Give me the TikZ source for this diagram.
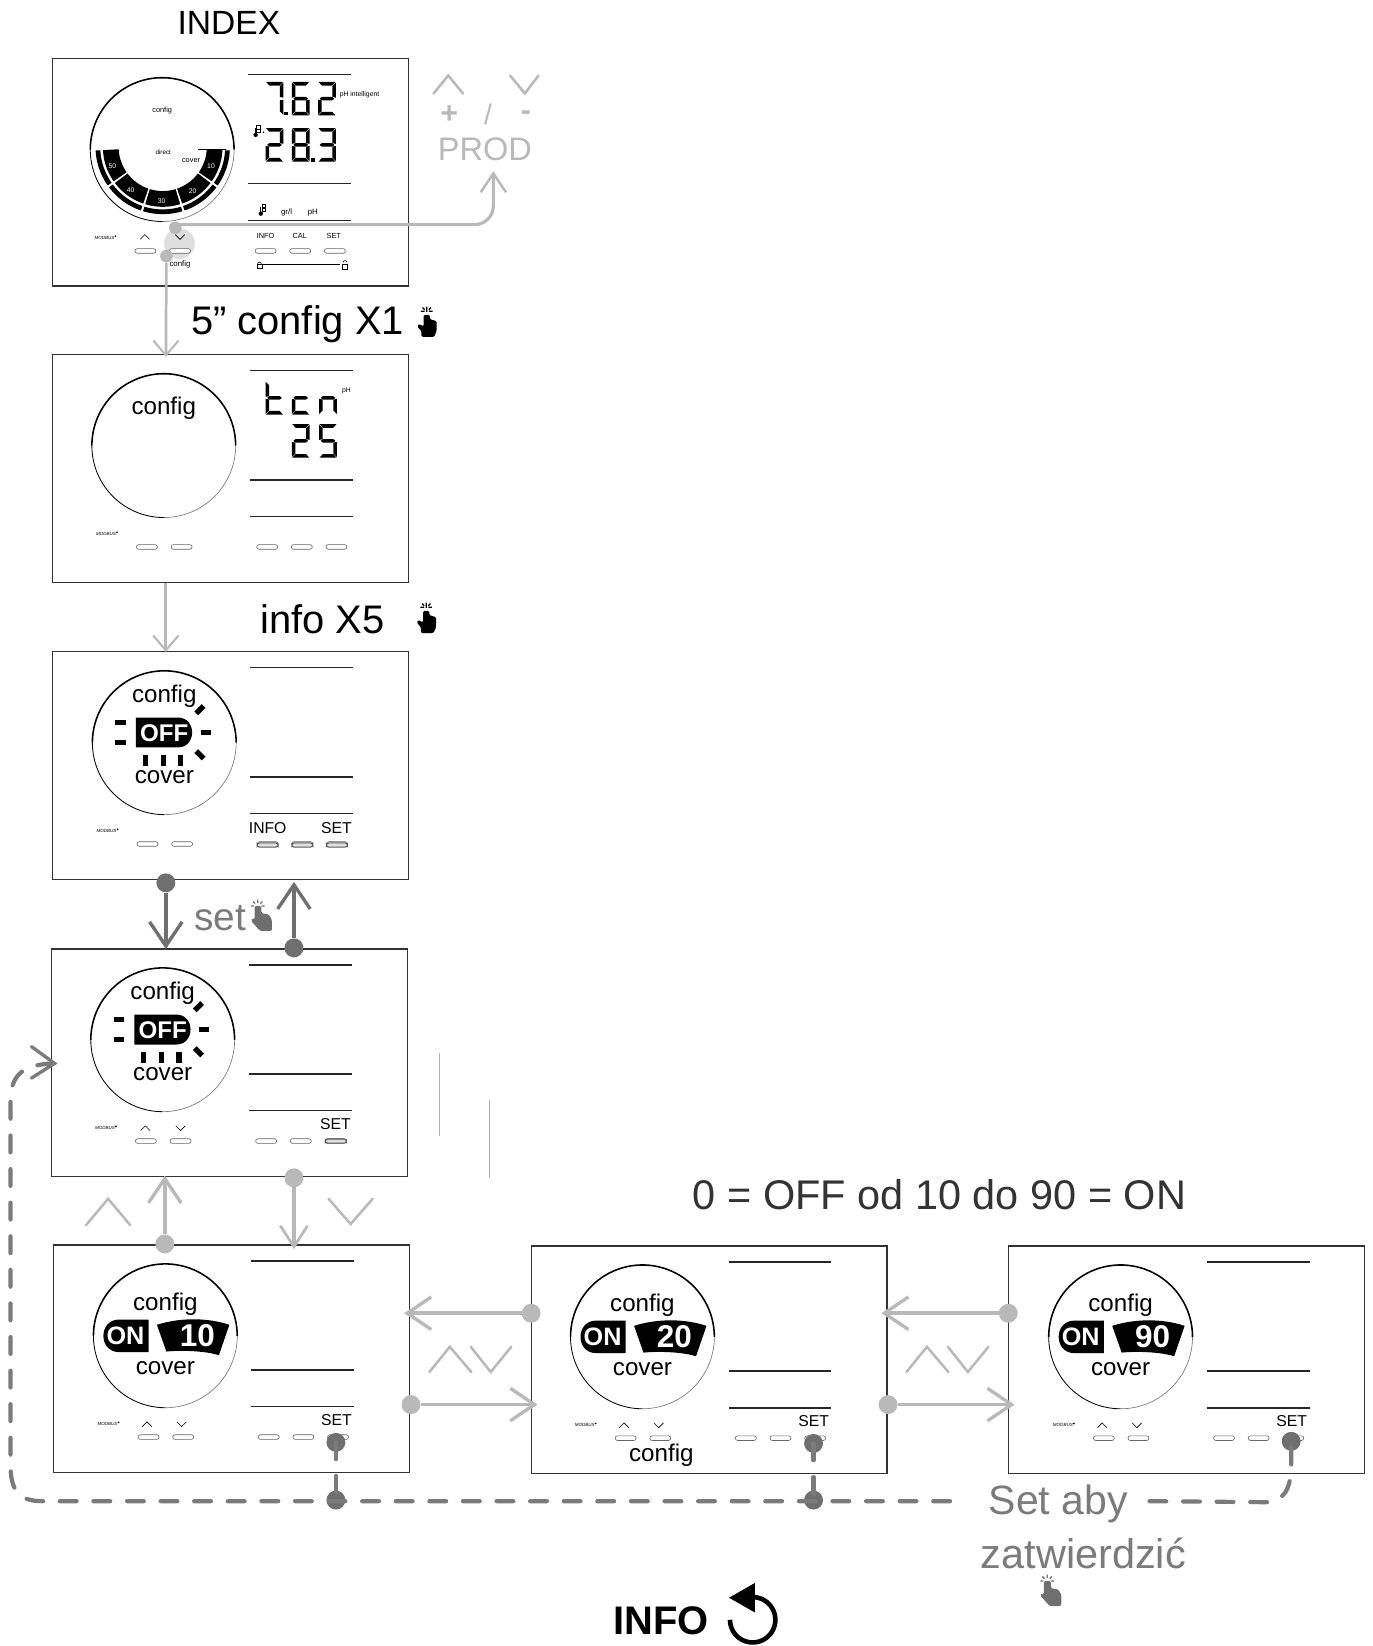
\documentclass[tikz,border=0pt]{standalone}
\usepackage{fontspec}
\setmainfont{Liberation Sans}
\usetikzlibrary{arrows.meta}
\definecolor{lgray}{HTML}{B9B9B9}
\definecolor{dgray}{HTML}{6F6F6F}
\definecolor{mgray}{HTML}{7B7B7B}
\definecolor{fcol}{HTML}{333333}
\newcommand\fs[1]{\fontsize{#1}{#1}\selectfont}
\tikzset{
 frame/.style={draw=fcol,line width=1.1pt,minimum width=339pt,minimum height=216.5pt,anchor=north west,inner sep=0pt,outer sep=0pt},
 txt/.style={inner sep=0pt,outer sep=0pt,text=black},
 ldot/.style={circle,fill=lgray,inner sep=0pt,minimum size=18pt},
 ddot/.style={circle,fill=dgray,inner sep=0pt,minimum size=18pt},
 sdot/.style={circle,fill=lgray,inner sep=0pt,minimum size=12pt},
 lconn/.style={draw=lgray,line width=3.6pt},
 dconn/.style={draw=dgray,line width=3.8pt},
 dashconn/.style={draw=mgray,line width=4pt,line cap=round,dash pattern=on 16pt off 16pt},
 bigtip/.style={-{Straight Barb[length=23pt,width=31pt,line width=3.2pt]}},
 smalltip/.style={-{Straight Barb[length=14pt,width=24pt,line width=2pt]}},
 rule/.style={draw=black!85,line width=1.5pt},
 btn/.style={draw=black!60,line width=.6pt,fill=white,rounded corners=2.2pt},
 chev/.style={draw=lgray,line width=2.4pt,line cap=round,line join=miter},
 tiny/.style={draw=black,line width=.6pt},
}
% seven segment pieces (17 x 32)
\newcommand\segA{\fill (.4,0) -- (16.6,0) -- (13.4,3.5) -- (3.6,3.5) -- cycle;}
\newcommand\segB{\fill (17,.5) -- (17,15) -- (13.6,14.4) -- (13.6,4) -- cycle;}
\newcommand\segC{\fill (17,17) -- (17,31.5) -- (13.6,28) -- (13.6,17.6) -- cycle;}
\newcommand\segD{\fill (.4,32) -- (16.6,32) -- (13.4,28.5) -- (3.6,28.5) -- cycle;}
\newcommand\segE{\fill (0,17) -- (0,31.5) -- (3.4,28) -- (3.4,17.6) -- cycle;}
\newcommand\segF{\fill (0,.5) -- (0,15) -- (3.4,14.4) -- (3.4,4) -- cycle;}
\newcommand\segG{\fill (1.5,16) -- (3.6,14.3) -- (13.4,14.3) -- (15.5,16) -- (13.4,17.7) -- (3.6,17.7) -- cycle;}
\newcommand\sevseg[3]{\begin{scope}[shift={(#1,#2)}]\foreach \s in {#3}{\csname seg\s\endcsname}\end{scope}}
% arcs and annular sectors, angles run clockwise on the page
\newcommand\arcline[6]{\draw[#1] plot[domain=#5:#6,samples=50] ({#2+#4*cos(\x)},{#3+#4*sin(\x)});}
\newcommand\annsec[6]{\fill plot[domain=#5:#6,samples=16] ({#1+#4*cos(\x)},{#2+#4*sin(\x)}) -- plot[domain=#6:#5,samples=16] ({#1+#3*cos(\x)},{#2+#3*sin(\x)}) -- cycle;}
% panel: name, frame x, frame y, content dx
\newcommand\panel[4]{%
 \node[frame] (#1) at (#2,#3) {};
 \begin{scope}[shift={(#2+#4,#3)}]
  \arcline{draw=black,line width=1.5pt}{106}{86.5}{68.5}{-180}{0}
  \arcline{draw=black,line width=.8pt}{106}{86.5}{68.5}{180}{90}
  \arcline{draw=black!55,line width=.6pt}{106}{86.5}{68.5}{90}{0}
  \draw[rule] (188,15) -- (286,15);
  \draw[rule] (188,119) -- (286,119);
  \draw[rule] (188,154) -- (286,154);
  \foreach \bx in {90,123,204.5,237.5,270.5}{\draw[btn] (\bx-10,180.8) rectangle (\bx+10,185.2);}
  \node[txt,font=\fs{4.3}\itshape] (#1logo) at (51,170.5) {MODBUS};
  \fill (61.5,169) circle (.9);
 \end{scope}}
\newcommand\offdisp[3]{%
 \begin{scope}[shift={(#2,#3)}]
  \node[txt,font=\fs{23}] (#1cfg) at (106,42.5) {config};
  \fill (79,62.5) -- (119,62.5) .. controls (137,62.5) and (137,91) .. (119,91) -- (79,91) -- cycle;
  \node[txt,font=\fs{23}\bfseries,text=white] (#1off) at (106,77) {OFF};
  \foreach \ty in {67,86}{\draw[line width=5pt] (59.5,\ty) -- (69.5,\ty);}
  \draw[line width=5pt] (140.5,77) -- (150.5,77);
  \draw[line width=5pt] (136.5,58.5) -- (143.5,51.5);
  \draw[line width=5pt] (136.5,94.5) -- (143.5,101.5);
  \foreach \tx in {88,105,121.4}{\draw[line width=5pt] (\tx,98) -- (\tx,109);}
  \node[txt,font=\fs{23}] (#1cov) at (106,119.5) {cover};
 \end{scope}}
\newcommand\ondisp[4]{%
 \begin{scope}[shift={(#2,#3)}]
  \node[txt,font=\fs{23}] (#1cfg) at (106,56) {config};
  \fill (90,71) -- (62,71) .. controls (42,71) and (42,102) .. (62,102) -- (90,102) -- cycle;
  \node[txt,font=\fs{24}\bfseries,text=white] (#1on) at (68,86.5) {ON};
  \fill (98,76) .. controls (120,69) and (146,69) .. (167,76) -- (157,105) .. controls (145,101) and (122,100) .. (107,101.5) -- cycle;
  \node[txt,font=\fs{30}\bfseries,text=white] (#1num) at (136.5,86.5) {#4};
  \node[txt,font=\fs{23}] (#1cov) at (106,117) {cover};
  \node[txt,font=\fs{15}] (#1set) at (269,167) {SET};
  \draw[tiny] (84,173) -- (88.5,168.5) -- (93,173);
  \draw[tiny] (117,168.5) -- (121.5,173) -- (126,168.5);
 \end{scope}}
% hand with the finger at one third: x, y (top left), colour
\newcommand\handicon[3]{%
 \begin{scope}[shift={(#1,#2)}]
  \fill[#3,rounded corners=1.4pt] (3.5,6) -- (10,6) -- (10,13) -- (17,14) -- (20,19) -- (20,30) -- (9,30) -- (0,20) -- (1.5,17.5) -- (3.5,19) -- cycle;
  \draw[line width=1.2pt,#3] (6.5,0) -- (6.5,3.4) (0,6) -- (3,6) (10,6) -- (13,6) (2,1.8) -- (4,3.8) (11,1.8) -- (9,3.8);
 \end{scope}}
% hand with the finger in the middle: x, y (top left)
\newcommand\handblack[2]{%
 \begin{scope}[shift={(#1,#2)}]
  \fill[rounded corners=1.2pt] (6.5,8) -- (12.5,8) -- (12.5,12) -- (19,14) -- (19,23) -- (16.5,29) -- (4.5,29) -- (4.5,23.5) -- (.5,19) -- (2,16.5) -- (6.5,19) -- cycle;
  \draw[line width=1.2pt] (9.5,0) -- (9.5,5) (4,4.5) -- (7.5,4.5) (11.5,4.5) -- (15,4.5) (5.5,1) -- (7.5,3) (13.5,1) -- (11.5,3);
 \end{scope}}
\newcommand\thermo[2]{%
 \begin{scope}[shift={(#1,#2)}]
  \fill (0,3.5) circle (2.1);
  \draw[line width=1.2pt] (0,-3) -- (0,3);
  \draw[line width=.35pt] (1,-5.5) rectangle (4.5,-2.2) (1,-2) rectangle (4.5,1);
 \end{scope}}
\begin{document}
\begin{tikzpicture}[x=1pt,y=-1pt]
\useasboundingbox (0,0) rectangle (1307,1568);
\fill[white] (0,0) rectangle (1307,1568);

% title
\node[txt,font=\fs{32}] (tindex) at (218,21.5) {INDEX};

% ---- panel 1
\fill[black!13] (171,232) circle (14.6);
\panel{fa}{50}{56}{-1.5}
% gauge
\foreach \aa/\ab in {3/35,37/71,73/107,109/143,145/177}{
 \annsec{155}{140}{42}{57}{\aa}{\ab}
 \annsec{155}{140}{59.5}{64}{\aa}{\ab}
}
\draw[line width=.8pt] (189,142.5) -- (215,142.5);
\foreach \lbl/\lx/\ly in {50/107/158,40/124.5/181.5,30/154/192,20/183.5/182,10/201/158}{
 \node[txt,font=\fs{6.5},text=white] (g\lbl) at (\lx,\ly) {\lbl};}
\node[txt,font=\fs{7}] (gcfg) at (154.5,105.5) {config};
\node[txt,font=\fs{6}] (gdir) at (155.5,145.5) {direct};
\node[txt,font=\fs{7}] (gcov) at (182,153) {cover};
% digits
\sevseg{253}{78}{A,B,C}
\fill (271,106.5) rectangle (274.5,110);
\sevseg{278}{78}{A,C,D,E,F,G}
\sevseg{303}{78}{A,B,D,E,G}
\sevseg{253}{122}{A,B,D,E,G}
\sevseg{278}{122}{A,B,C,D,E,F,G}
\fill (296.5,150.5) rectangle (300,154);
\sevseg{303}{122}{A,B,C,D,G}
\fill (251,126) circle (.9);
\node[txt,font=\fs{6.5}] (tph) at (342.5,90.5) {pH intelligent};
\thermo{243.5}{125}
\thermo{248.5}{200}
\node[txt,font=\fs{7.5}] (tgrl) at (273,202.5) {gr/l};
\node[txt,font=\fs{7.5}] (tphb) at (298,202.5) {pH};
% labels under panel 1
\draw[tiny] (133.5,228) -- (138,223.5) -- (142.5,228);
\draw[tiny] (167,223.5) -- (171.5,228) -- (176,223.5);
\node[txt,font=\fs{7}] (tinf) at (253,225) {INFO};
\node[txt,font=\fs{7}] (tcal) at (285.5,225) {CAL};
\node[txt,font=\fs{7}] (tset) at (318,225) {SET};
\node[txt,font=\fs{7.5}] (tcfa) at (171.5,251.5) {config};
\draw[line width=.6pt] (250,251.5) -- (324,251.5);
\draw[line width=.6pt] (245,251.5) rectangle (249.5,256);
\arcline{draw=black,line width=.6pt}{247.2}{251.5}{1.7}{-180}{0}
\draw[line width=.6pt] (326.5,252) rectangle (331,256.5);
\arcline{draw=black,line width=.6pt}{328.7}{250}{1.7}{-180}{0}

% ---- panel 2
\panel{fb}{50}{338}{0}
\node[txt,font=\fs{23}] (bcfg) at (156,389) {config};
\sevseg{253}{363}{D,E,F,G}
\sevseg{278}{363}{D,E,G}
\sevseg{304}{363}{C,E,G}
\sevseg{278}{404}{A,B,D,E,G}
\sevseg{304}{404}{A,C,D,F,G}
\node[txt,font=\fs{6.5}] (bph) at (330,372) {pH};

% ---- panel 3
\panel{fc}{50}{621}{0.5}
\offdisp{c}{50.5}{621}
\node[txt,font=\fs{15}] (cinf) at (255,789) {INFO};
\node[txt,font=\fs{15}] (cset) at (320.5,789) {SET};
\foreach \bx in {255,288,321}{\draw[btn,draw=black!65,line width=1pt,fill=black!12] (\bx-10,803) rectangle (\bx+10,807);}

% ---- panel 4
\panel{fd}{49}{904}{0}
\offdisp{d}{49}{904}
\node[txt,font=\fs{15}] (dset) at (319.5,1071) {SET};
\draw[tiny] (134,1077) -- (138.5,1072.5) -- (143,1077);
\draw[tiny] (167.5,1072.5) -- (172,1077) -- (176.5,1072.5);
\draw[btn,draw=black!65,line width=1pt,fill=black!12] (310,1085) rectangle (330,1089);

% ---- panels 5, 6, 7
\panel{fe}{51}{1186}{0.5}
\ondisp{e}{51.5}{1186}{10}
\panel{ff}{506}{1187}{0}
\ondisp{f}{506}{1187}{20}
\panel{fg}{961}{1187}{0.5}
\ondisp{g}{961.5}{1187}{90}
\node[txt,font=\fs{23}] (fcfg2) at (630,1386) {config};

% faint rules
\draw[black!30,line width=.7pt] (419,1003) -- (419,1082);
\draw[black!30,line width=.7pt] (466,1048) -- (466,1122);

% ---- PROD block
\draw[chev] (413,89) -- (427,72) -- (441,89);
\draw[chev] (486,72) -- (500,89) -- (513,72);
\node[txt,font=\fs{29}\bfseries,text=lgray] (tplus) at (428,109) {+};
\node[txt,font=\fs{27},text=lgray] (tslash) at (465,108.5) {/};
\node[txt,font=\fs{29}\bfseries,text=lgray] (tminus) at (501,110.5) {-};
\node[txt,font=\fs{31},text=lgray] (tprod) at (462,142.5) {PROD};

% ---- captions
\node[txt,font=\fs{38}] (t5c) at (283.5,308.5) {5” config X1};
\handblack{397}{292}
\node[txt,font=\fs{38}] (tix) at (307,590) {info X5};
\handblack{396.5}{574}
\node[txt,font=\fs{37},text=mgray] (tst) at (210,875) {set};
\handicon{239}{857}{dgray}
\node[txt,font=\fs{39.5},text=black!80] (trng) at (895,1138) {0 = OFF od 10 do 90 = ON};
\node[txt,font=\fs{39},text=mgray] (tsa) at (1008,1432.5) {Set aby};
\node[txt,font=\fs{39.5},text=mgray] (tzat) at (1032,1480) {zatwierdzić};
\handicon{991}{1500}{dgray}
\node[txt,font=\fs{38}\bfseries] (tinfo) at (630,1544) {INFO};
\arcline{draw=black,line width=4.4pt}{717}{1543}{21.6}{180}{-90}
\fill (694.5,1522) -- (719,1508) -- (719,1536) -- cycle;

% ---- light connectors
\node[sdot] (da) at (167,217) {};
\node[sdot] (db) at (158.5,244) {};
\coordinate (ca) at (167,214);
\coordinate (tprodtip) at (470,163);
\coordinate (tfb) at (158,340);
\draw[lconn,line width=3pt,rounded corners=18pt,-{Straight Barb[length=18pt,width=24pt,line width=2.4pt]}] (ca) -| (tprodtip);
\draw[lconn,line width=2.6pt,smalltip] (db) -- (tfb);
\coordinate (bb) at (158,555);
\coordinate (tfc) at (158,621);
\draw[lconn,line width=2.6pt,smalltip] (bb) -- (tfc);

% ---- panel 3 / 4 connectors
\node[ddot] (dc) at (158,841) {};
\node[ddot] (dd) at (280,903) {};
\coordinate (tfd) at (158,904);
\coordinate (tfc2) at (280,840);
\draw[dconn,bigtip] (dc) -- (tfd);
\draw[dconn,bigtip] (dd) -- (tfc2);

% ---- panel 4 / 5 connectors
\node[ldot] (le) at (157,1185) {};
\node[ldot] (ld) at (280,1122) {};
\coordinate (tfd2) at (157,1120);
\coordinate (tfe) at (280,1190);
\draw[lconn,bigtip] (le) -- (tfd2);
\draw[lconn,line width=3pt,-{Straight Barb[length=20pt,width=26pt,line width=2.6pt]}] (ld) -- (tfe);
\draw[chev] (82,1167) -- (103,1142) -- (124,1167);
\draw[chev] (313,1142) -- (334,1166) -- (355,1142);

% ---- horizontal connectors
\foreach \nm/\ox in {a/0,b/454.5}{
 \node[ldot] (hl\nm) at (506+\ox,1251) {};
 \node[ldot] (hr\nm) at (391.5+\ox,1338) {};
 \coordinate (hlt\nm) at (385+\ox,1251);
 \coordinate (hrt\nm) at (512+\ox,1338);
 \draw[lconn,bigtip] (hl\nm) -- (hlt\nm);
 \draw[lconn,bigtip] (hr\nm) -- (hrt\nm);
 \draw[chev] (409+\ox,1307) -- (428.5+\ox,1283) -- (449+\ox,1307);
 \draw[chev] (448.5+\ox,1283) -- (467.5+\ox,1307) -- (487+\ox,1283);
}

% ---- confirm (dashed) connectors
\node[ddot] (se) at (320,1374) {};
\node[ddot] (sf) at (775,1375) {};
\node[ddot] (sg) at (1230,1373) {};
\node[ddot] (je) at (320,1429) {};
\node[ddot] (jf) at (775,1429) {};
\draw[dashconn] (se.center) -- (je.center);
\draw[dashconn] (sf.center) -- (jf.center);
\coordinate (dl) at (905,1430);
\coordinate (tfdl) at (52,1013);
\draw[dashconn] (dl) -- (40,1430) .. controls (18,1430) and (10,1420) .. (10,1395) -- (10,1050) .. controls (10,1025) and (20,1015) .. (49,1013);
\draw[mgray,line width=3.2pt,line cap=round] (30,997) -- (tfdl) -- (30,1027);
\coordinate (dr) at (1095,1430);
\draw[dashconn] (dr) -- (1205,1431) .. controls (1222,1431) and (1230,1420) .. (1230,1395) -- (sg.center);
\end{tikzpicture}
\end{document}
